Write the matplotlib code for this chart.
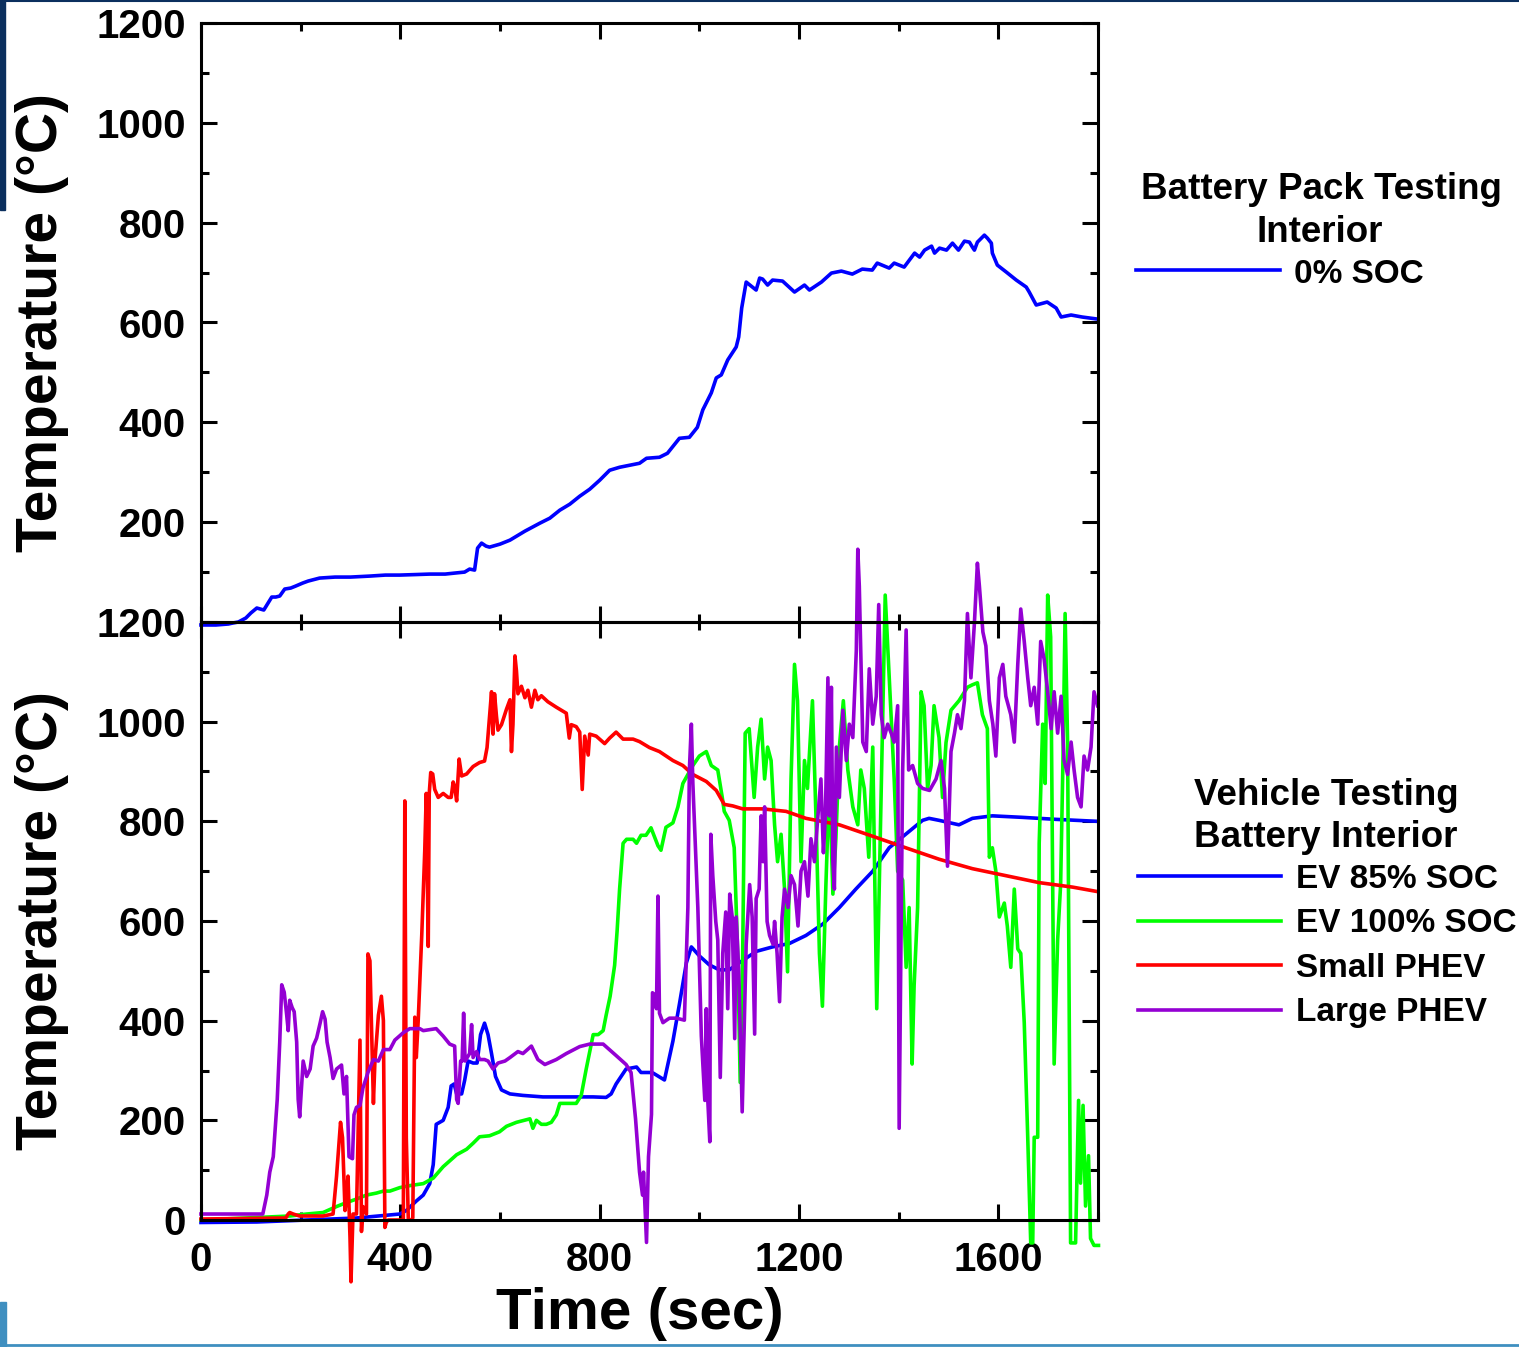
import matplotlib
matplotlib.use("Agg")
import matplotlib.pyplot as plt
from matplotlib.lines import Line2D
from matplotlib.patches import Rectangle

plt.rcParams['font.family'] = ['Liberation Sans', 'DejaVu Sans']
plt.rcParams['font.weight'] = 'bold'

# ---- top panel: battery pack test, 0% SOC ----
pack_t = [0, 30, 55, 64, 75, 90, 100, 112, 126, 142, 150, 158, 168, 180, 190, 204, 215, 238,
          269, 300, 339, 370, 399, 430, 459, 490, 509, 529, 539, 549, 555, 563, 572, 579, 600,
          620, 650, 680, 700, 720, 740, 760, 780, 800, 820, 840, 860, 880, 894, 920, 936, 960,
          980, 996, 1007, 1024, 1034, 1044, 1057, 1074, 1079, 1085, 1094, 1114, 1121, 1127,
          1137, 1147, 1167, 1191, 1211, 1221, 1245, 1265, 1285, 1307, 1327, 1347, 1357, 1381,
          1391, 1411, 1432, 1442, 1452, 1466, 1472, 1482, 1496, 1508, 1520, 1532, 1542, 1548,
          1552, 1558, 1572, 1578, 1586, 1588, 1598, 1616, 1636, 1656, 1662, 1676, 1698, 1716,
          1726, 1746, 1768, 1798]
pack_T = [-6, -6, -4, -2, 0, 8, 18, 28, 24, 50, 50, 52, 66, 68, 72, 78, 82, 88,
          90, 90, 92, 94, 94, 95, 96, 96, 98, 100, 106, 104, 148, 158, 152, 150, 156,
          164, 182, 198, 208, 224, 236, 252, 266, 284, 304, 310, 314, 318, 328, 330, 338, 368,
          370, 390, 425, 459, 489, 495, 525, 551, 571, 629, 681, 665, 689, 687,
          675, 685, 683, 661, 675, 665, 681, 699, 703, 697, 707, 705, 719, 709,
          719, 711, 739, 731, 745, 753, 739, 749, 745, 759, 745, 763, 761, 751,
          745, 761, 775, 769, 759, 739, 715, 701, 685, 671, 661, 635, 641, 629,
          611, 615, 611, 607]

# ---- bottom panel: vehicle tests ----
ev85_t = [0, 112, 212, 312, 399, 412, 432, 446, 459, 466, 472, 486, 496, 502, 508, 513, 523,
          529, 536, 546, 554, 561, 569, 576, 583, 591, 603, 620, 646, 686, 747, 787, 813, 823,
          833, 853, 874, 883, 900, 907, 930, 947, 960, 974, 984, 1000, 1020, 1040, 1060, 1080,
          1114, 1147, 1181, 1214, 1248, 1281, 1314, 1348, 1381, 1414, 1448, 1461, 1481, 1521,
          1548, 1588, 1648, 1715, 1799]
ev85_T = [-5, -4, 0, 4, 12, 19, 38, 50, 73, 111, 192, 200, 226, 269, 273, 253, 253,
          280, 319, 315, 315, 372, 395, 372, 334, 288, 261, 253, 250, 247, 247, 247, 246, 253,
          273, 303, 307, 296, 296, 295, 281, 359, 433, 516, 548, 530, 512, 502, 502, 516,
          539, 548, 555, 571, 594, 627, 664, 700, 747, 774, 802, 806, 802, 793,
          806, 811, 808, 804, 800]

ev100_t = [0, 178, 212, 245, 272, 292, 312, 332, 352, 366, 379, 399, 419, 446, 466, 486, 513,
           533, 546, 559, 579, 599, 613, 633, 660, 666, 673, 683, 693, 703, 713, 720, 733, 753,
           763, 773, 780, 787, 797, 807, 813, 821, 830, 835, 840, 847, 854, 867, 874, 883, 893,
           903, 917, 923, 933, 947, 957, 967, 987, 1000, 1014, 1024, 1037, 1046, 1050, 1060,
           1070, 1077, 1082, 1087, 1092, 1100, 1110, 1117, 1124, 1131, 1137, 1144, 1151, 1157,
           1164, 1171, 1177, 1184, 1191, 1197, 1204, 1211, 1217, 1227, 1234, 1241, 1247, 1254,
           1261, 1268, 1274, 1281, 1289, 1298, 1308, 1318, 1324, 1331, 1340, 1348, 1356, 1364,
           1373, 1381, 1391, 1398, 1408, 1415, 1421, 1427, 1431, 1438, 1445, 1451, 1458, 1465,
           1471, 1481, 1488, 1495, 1505, 1521, 1538, 1548, 1558, 1568, 1578, 1582, 1588, 1595,
           1602, 1612, 1618, 1625, 1632, 1639, 1645, 1652, 1659, 1665, 1669, 1672, 1679, 1682,
           1689, 1694, 1699, 1705, 1712, 1719, 1725, 1730, 1734, 1739, 1745, 1755, 1761, 1765,
           1770, 1775, 1781, 1785, 1792, 1801]
ev100_T = [0, 8, 12, 15, 27, 35, 42, 50, 54, 58, 58, 65, 69, 73, 84, 107, 131,
           142, 154, 167, 169, 177, 188, 196, 203, 184, 200, 192, 192, 196, 211, 234, 234, 234,
           250, 303, 338, 372, 372, 380, 411, 449, 511, 580, 664, 756, 764, 764, 756, 772, 772,
           787, 751, 742, 788, 797, 829, 876, 912, 931, 940, 912, 903, 848, 820, 802,
           747, 535, 276, 535, 977, 986, 848, 949, 1005, 885, 949, 922, 793, 719,
           774, 664, 498, 885, 1115, 1042, 719, 922, 866, 1042, 811, 535, 429, 673,
           885, 654, 765, 949, 1042, 903, 829, 793, 903, 866, 728, 949, 424, 811,
           1254, 1088, 885, 700, 682, 507, 627, 313, 470, 627, 1060, 1032, 866, 912,
           1032, 968, 848, 958, 1023, 1042, 1069, 1074, 1078, 1014, 986, 728, 747, 700,
           608, 636, 590, 507, 664, 544, 535, 396, 166, -46, -46, 166, 166, 756,
           995, 876, 1254, 1170, 313, 562, 673, 940, 1217, 958, -46, -46, 240, 74,
           230, 28, 129, -37, -51, -51]

small_phev_t = [0, 170, 175, 178, 185, 198, 245, 265, 272, 280, 284, 289, 292, 295, 299, 301,
                305, 312, 319, 322, 325, 332, 335, 339, 342, 346, 349, 356, 362, 366, 369, 372,
                376, 392, 406, 409, 412, 416, 422, 425, 429, 432, 436, 443, 449, 452, 456, 458,
                461, 465, 469, 476, 486, 496, 502, 506, 509, 513, 518, 523, 533, 546, 559, 569,
                574, 579, 583, 586, 589, 593, 596, 603, 613, 620, 623, 626, 630, 633, 636, 643,
                650, 656, 663, 670, 676, 683, 696, 713, 733, 739, 743, 753, 760, 765, 770, 777,
                780, 793, 810, 820, 833, 847, 867, 880, 900, 920, 947, 967, 987, 1014, 1034,
                1050, 1067, 1087, 1127, 1174, 1214, 1281, 1348, 1414, 1481, 1548, 1615, 1682,
                1749, 1799]
small_phev_T = [2, 4, 12, 15, 12, 8, 8, 12, 88, 196, 165, 19, 50, 88, -35, -124,
                12, 12, 361, -23, 27, 12, 534, 520, 395, 234, 319, 411, 449, 400, -15, -4,
                0, 0, 0, 841, 165, 0, 0, 4, 407, 326, 403, 572, 741, 856, 549, 856,
                898, 895, 864, 848, 856, 848, 848, 879, 870, 841, 925, 891, 895, 910, 918, 921,
                948, 1010, 1060, 975, 1056, 1010, 983, 994, 1025, 1044, 940, 994, 1132, 1102,
                1056, 1071,
                1048, 1063, 1029, 1063, 1044, 1052, 1040, 1029, 1017, 967, 994, 990, 979, 864,
                971, 933,
                975, 971, 956, 967, 979, 965, 965, 960, 948, 940, 922, 912, 894, 880, 862,
                834, 831, 825, 825, 820, 806, 793, 770, 747, 724, 705, 691, 677,
                668, 659]

large_phev_t = [0, 124, 132, 138, 145, 153, 158, 162, 167, 172, 175, 178, 183, 187, 192, 195,
                198, 205, 212, 219, 225, 232, 239, 244, 249, 253, 259, 265, 272, 282, 287, 292,
                297, 304, 307, 312, 319, 325, 335, 346, 356, 366, 379, 389, 406, 419, 439, 446,
                472, 486, 499, 509, 513, 516, 521, 524, 527, 530, 539, 543, 546, 553, 559, 569,
                576, 586, 596, 610, 620, 636, 646, 663, 676, 690, 713, 733, 760, 780, 807, 833,
                853, 863, 872, 880, 886, 888, 892, 894, 898, 904, 906, 910, 914, 917, 920, 927,
                934, 940, 954, 970, 977, 980, 984, 987, 997, 1004, 1011, 1014, 1017, 1021, 1023,
                1027, 1033, 1037, 1042, 1047, 1053, 1057, 1061, 1066, 1071, 1074, 1079, 1086,
                1094, 1101, 1106, 1111, 1114, 1120, 1124, 1128, 1131, 1136, 1141, 1148, 1151,
                1156, 1161, 1166, 1171, 1178, 1184, 1191, 1198, 1204, 1211, 1218, 1224, 1231,
                1238, 1244, 1249, 1253, 1258, 1261, 1265, 1268, 1271, 1275, 1281, 1288, 1295,
                1301, 1308, 1315, 1318, 1321, 1328, 1335, 1341, 1348, 1355, 1360, 1365, 1371,
                1378, 1385, 1391, 1398, 1401, 1408, 1415, 1420, 1428, 1438, 1448, 1462, 1475,
                1485, 1492, 1498, 1505, 1512, 1518, 1525, 1532, 1538, 1545, 1552, 1558, 1562,
                1569, 1575, 1582, 1589, 1595, 1602, 1609, 1615, 1625, 1632, 1639, 1645, 1652,
                1659, 1665, 1672, 1679, 1685, 1692, 1699, 1706, 1712, 1719, 1726, 1732, 1739,
                1746, 1752, 1759, 1766, 1772, 1779, 1786, 1792, 1799]
large_phev_T = [12, 12, 50, 96, 127, 242, 357, 472, 457, 411, 380, 441, 426, 418, 357, 242,
                207, 319, 288, 303, 349, 365, 395, 418, 403, 357, 326, 284, 303, 311, 253, 288,
                127, 123, 211, 226, 230, 265, 296, 322, 319, 342, 342, 361, 376, 384, 384, 380,
                384, 369, 353, 349, 242, 234, 319, 319, 415, 319, 334, 392, 326, 338, 322, 322,
                319, 303, 315, 319, 326, 338, 334, 349, 322, 312, 322, 334, 348, 353, 353, 330,
                312, 296, 203, 96, 50, 96, 0, -45, 127, 212, 456, 452, 424, 650, 415, 396,
                401, 405, 405, 401, 627, 903, 995, 876, 627, 369, 240, 424, 240, 157, 774,
                691, 599, 562, 286, 535, 618, 424, 654, 608, 364, 608, 502, 217,
                553, 673, 608, 373, 645, 664, 811, 719, 829, 599, 571, 553, 599,
                535, 438, 608, 664, 627, 691, 673, 590, 700, 719, 650, 765, 719,
                811, 885, 737, 811, 1088, 811, 1069, 719, 664, 949, 848, 1023, 922,
                995, 968, 1143, 1346, 1272, 959, 940, 1106, 995, 1051, 1235, 1014, 968,
                995, 977, 959, 1032, 184, 903, 1184, 903, 912, 876, 866, 862, 885,
                922, 866, 710, 940, 977, 1014, 986, 1042, 1217, 1088, 1198, 1318, 1272,
                1180, 1152, 1042, 995, 931, 1088, 1115, 1051, 1014, 959, 1115, 1226, 1161,
                1088, 1032, 1069, 995, 1161, 1125, 1060, 986, 1060, 977, 1051, 922, 894,
                959, 903, 848, 829, 931, 903, 949, 1060, 1032]

BLUE = '#0000ff'
GREEN = '#00ff00'
RED = '#ff0000'
PURPLE = '#9400d3'
LW = 2.6
W, H = 1519, 1347

fig = plt.figure(figsize=(W / 100, H / 100), dpi=100)
left, right = 201 / W, 1098 / W
ax1 = fig.add_axes([left, 1 - 622 / H, right - left, 599 / H])
ax2 = fig.add_axes([left, 1 - 1220 / H, right - left, 598 / H])
ax2.patch.set_visible(False)

ax1.plot(pack_t, pack_T, color=BLUE, lw=LW, clip_on=False)
ax2.plot(ev85_t, ev85_T, color=BLUE, lw=LW, clip_on=False)
ax2.plot(ev100_t, ev100_T, color=GREEN, lw=LW, clip_on=False)
ax2.plot(small_phev_t, small_phev_T, color=RED, lw=LW, clip_on=False)
ax2.plot(large_phev_t, large_phev_T, color=PURPLE, lw=LW, clip_on=False)

for ax in (ax1, ax2):
    ax.set_xlim(0, 1800)
    ax.set_ylim(0, 1200)
    ax.set_xticks(range(0, 1801, 400))
    ax.set_xticks(range(0, 1801, 200), minor=True)
    ax.set_yticks(range(0, 1201, 100), minor=True)
    for s in ax.spines.values():
        s.set_linewidth(2.2)
    ax.tick_params(which='both', direction='in', top=True, right=True, width=2.2,
                   labelsize=29)
    ax.tick_params(which='major', length=11.5)
    ax.tick_params(axis='y', which='major', pad=11)
    ax.tick_params(axis='x', which='major', pad=15)
    ax.tick_params(which='minor', length=6)
    ax.set_ylabel('Temperature (°C)', fontsize=41, fontweight='bold')
    ax.yaxis.set_label_coords(-0.147, 0.5)

ax1.set_yticks(range(200, 1201, 200))
ax1.tick_params(labelbottom=False)
ax2.set_yticks(range(0, 1201, 200))
ax2.set_xlabel('Time (sec)', fontsize=42, fontweight='bold')
ax2.xaxis.set_label_coords(0.489, -0.112)

def fx(px):
    return px / W

def fy(py):
    return 1 - py / H

# legend blocks
fig.text(fx(1321), fy(199), 'Battery Pack Testing', ha='center', va='baseline', fontsize=26.5)
fig.text(fx(1320), fy(242), 'Interior', ha='center', va='baseline', fontsize=26.5)
fig.add_artist(Line2D([fx(1136), fx(1280)], [fy(270), fy(270)], color=BLUE, lw=LW))
fig.text(fx(1294), fy(283), '0% SOC', ha='left', va='baseline', fontsize=24)

fig.text(fx(1326), fy(805), 'Vehicle Testing', ha='center', va='baseline', fontsize=26.5)
fig.text(fx(1326), fy(847), 'Battery Interior', ha='center', va='baseline', fontsize=26.5)
entries = [('EV 85% SOC', BLUE), ('EV 100% SOC', GREEN), ('Small PHEV', RED), ('Large PHEV', PURPLE)]
for i, (name, col) in enumerate(entries):
    yl = 876 + 44.5 * i
    fig.add_artist(Line2D([fx(1138), fx(1281)], [fy(yl), fy(yl)], color=col, lw=LW))
    fig.text(fx(1296), fy(yl + 12), name, ha='left', va='baseline', fontsize=24)

# slide decoration
fig.add_artist(Rectangle((0, fy(210)), 5 / W, 210 / H, color='#0b2f5e', transform=fig.transFigure))
fig.add_artist(Line2D([0, 1], [fy(1), fy(1)], color='#0b2f5e', lw=1.5))
fig.add_artist(Rectangle((0, 0), 6 / W, 45 / H, color='#3f8fc0', transform=fig.transFigure))
fig.add_artist(Line2D([0, 1], [fy(1345), fy(1345)], color='#3f8fc0', lw=2))

fig.savefig('out.png', dpi=100)
